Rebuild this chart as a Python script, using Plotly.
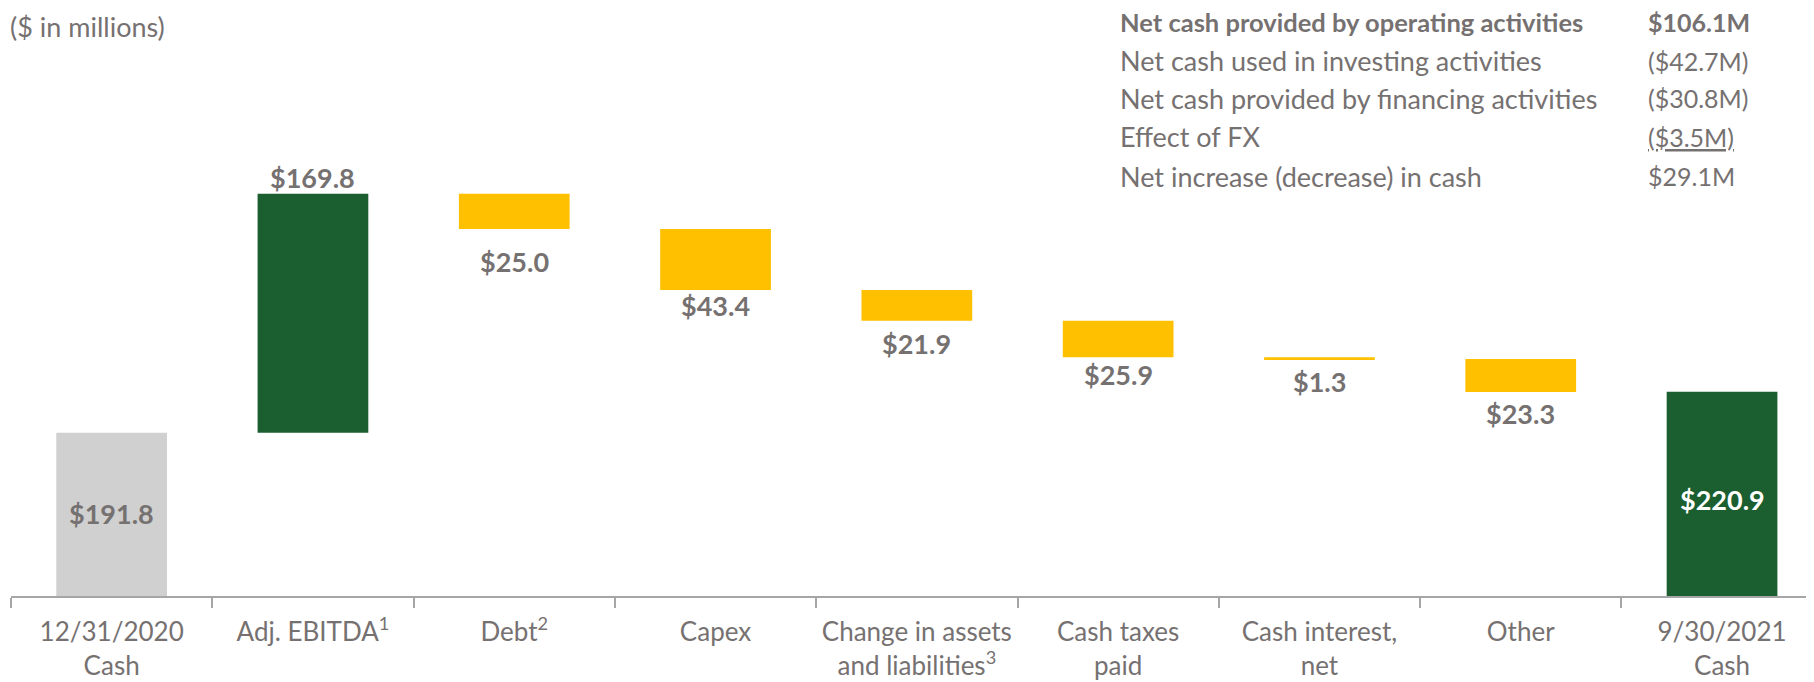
import plotly.graph_objects as go

# ---------------- data ----------------
categories = ["12/31/2020<br>Cash", "Adj. EBITDA<sup>1</sup>", "Debt<sup>2</sup>", "Capex",
              "Change in assets<br>and liabilities<sup>3</sup>", "Cash taxes<br>paid",
              "Cash interest,<br>net", "Other", "9/30/2021<br>Cash"]
start_cash = 191.8
changes = [169.8, -25.0, -43.4, -21.9, -25.9, -1.3, -23.3]
end_cash = 220.9

table_labels = ["Net cash provided by operating activities", "Net cash used in investing activities",
                "Net cash provided by financing activities", "Effect of FX",
                "Net increase (decrease) in cash"]
table_values = ["$106.1M", "($42.7M)", "($30.8M)", "($3.5M)", "$29.1M"]

# ---------------- styling ----------------
FONT = "Lato, 'Open Sans', sans-serif"
GRAY_TXT = "#767171"
C_START = "#d0d0d0"
C_GREEN = "#1b5e30"
C_YEL = "#ffc000"
W, H = 1814, 682
ML, MR, MT, MB = 3, 0, 0, 94
PH = H - MT - MB
PW = W - ML - MR
Y_MIN = 75.8
Y_MAX = Y_MIN + PH / 1.4075
X_RANGE = [-0.5, -0.5 + PW / 201.3]
neg_shift = [12, -5, 2, -3, 2, 1]   # fine-tune of label offsets below bars


def px_x(px):
    return (px - ML) / PW


def px_y(py):
    return 1 - (py - MT) / PH


# waterfall geometry derived from data
running = [start_cash]
for c in changes:
    running.append(running[-1] + c)
bases = [0]
vals = [start_cash]
colors = [C_START]
for i, c in enumerate(changes):
    lo = min(running[i], running[i + 1])
    bases.append(lo)
    vals.append(abs(c))
    colors.append(C_GREEN if c > 0 else C_YEL)
bases.append(0)
vals.append(end_cash)
colors.append(C_GREEN)

fig = go.Figure()
fig.add_trace(go.Bar(x=categories, y=vals, base=bases, marker=dict(color=colors, line=dict(width=0)),
                     width=0.55, hoverinfo="skip", showlegend=False))

ann = []
lab_font = dict(family=FONT, size=27, color=GRAY_TXT)
ann.append(dict(x=categories[0], y=(Y_MIN + start_cash) / 2, text="<b>$%.1f</b>" % start_cash,
                showarrow=False, font=lab_font, xanchor="center", yanchor="middle", yshift=1))
k = 0
for i, c in enumerate(changes):
    cat = categories[i + 1]
    if c > 0:
        ann.append(dict(x=cat, y=running[i + 1], text="<b>$%.1f</b>" % c, showarrow=False,
                        font=lab_font, xanchor="center", yanchor="bottom", yshift=-1, borderpad=0))
    else:
        ann.append(dict(x=cat, y=running[i + 1], text="<b>$%.1f</b>" % abs(c), showarrow=False,
                        font=lab_font, xanchor="center", yanchor="top", yshift=-3 - neg_shift[k],
                        borderpad=0))
        k += 1
ann.append(dict(x=categories[-1], y=(Y_MIN + end_cash) / 2, text="<b>$%.1f</b>" % end_cash,
                showarrow=False, font=dict(family=FONT, size=27, color="white"),
                xanchor="center", yanchor="middle", yshift=-6))

# units note
ann.append(dict(xref="paper", yref="paper", x=px_x(1), y=px_y(18),
                text="($ in millions)", showarrow=False, xanchor="left", yanchor="middle",
                font=dict(family=FONT, size=27, color=GRAY_TXT), borderpad=0))

# summary table
row_y = [14, 52.5, 90.5, 129, 168]
for j, (lab, val) in enumerate(zip(table_labels, table_values)):
    yp = px_y(row_y[j])
    if j == 0:
        lt, ls = "<b>%s</b>" % lab, 25.5
        vt = "<b>%s</b>" % val
    else:
        lt, ls = lab, 27
        vt = "<u>%s</u>" % val if j == 3 else val
    ann.append(dict(xref="paper", yref="paper", x=px_x(1111), y=yp, text=lt,
                    showarrow=False, xanchor="left", yanchor="middle", borderpad=0,
                    font=dict(family=FONT, size=ls, color=GRAY_TXT)))
    ann.append(dict(xref="paper", yref="paper", x=px_x(1639), y=yp, text=vt,
                    showarrow=False, xanchor="left", yanchor="middle", borderpad=0,
                    font=dict(family=FONT, size=25, color=GRAY_TXT)))

fig.update_layout(
    width=W, height=H,
    margin=dict(l=ML, r=MR, t=MT, b=MB),
    plot_bgcolor="white", paper_bgcolor="white",
    annotations=ann,
    xaxis=dict(type="category", range=X_RANGE, showline=True, linecolor="#a6a6a6", linewidth=2,
               ticks="outside", ticklen=10, tickwidth=1.5, tickcolor="#a6a6a6", tickson="boundaries",
               showgrid=False, ticklabelstandoff=12,
               tickfont=dict(family=FONT, size=26, color=GRAY_TXT)),
    yaxis=dict(range=[Y_MIN, Y_MAX], visible=False, showgrid=False, zeroline=False),
)

fig.write_html("out.html")
